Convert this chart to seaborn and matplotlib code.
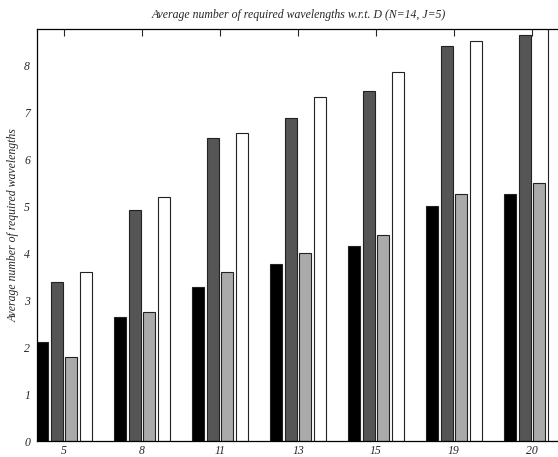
import pandas as pd
import matplotlib.pyplot as plt
import seaborn as sns

# values (y axis: average number of wavelengths)
D_values = ["5", "8", "11", "13", "15", "19", "20"]
series_a = [2.10, 2.63, 3.27, 3.76, 4.15, 5.00, 5.25]
series_b = [3.39, 4.91, 6.44, 6.88, 7.45, 8.40, 8.64]
series_c = [1.79, 2.75, 3.59, 3.99, 4.38, 5.25, 5.50]
series_d = [3.59, 5.19, 6.56, 7.32, 7.85, 8.52, 9.00]
series_names = ["a", "b", "c", "d"]
bar_colors = ["#000000", "#555555", "#aaaaaa", "#ffffff"]

rows = []
for name, vals in zip(series_names, [series_a, series_b, series_c, series_d]):
    for d, v in zip(D_values, vals):
        rows.append({"D": d, "value": v, "series": name})
df = pd.DataFrame(rows)

sns.set_style("white")
plt.rcParams["font.family"] = ["Liberation Serif", "DejaVu Serif"]
plt.rcParams["font.style"] = "italic"

fig = plt.figure(figsize=(5.58, 4.57), dpi=100)
ax = fig.add_axes([37 / 558, 16 / 457, 523 / 558, 412 / 457])

sns.barplot(data=df, x="D", y="value", hue="series", order=D_values,
            hue_order=series_names, palette=bar_colors, saturation=1,
            width=0.744, gap=0.17, edgecolor="#222222", linewidth=0.8,
            legend=False, ax=ax)

ax.set_xlim(-0.346, 6.36)
ax.set_ylim(0, 8.766)
ax.set_yticks(range(0, 9))
ax.set_xlabel("")
ax.set_ylabel("Average number of required wavelengths", fontsize=8.5)
ax.yaxis.set_label_coords(-0.034, 0.524)
ax.set_title("Average number of required wavelengths w.r.t. D (N=14, J=5)",
             fontsize=8.5, pad=8)

for s in ax.spines.values():
    s.set_color("black")
    s.set_linewidth(0.9)
ax.tick_params(axis="x", direction="in", top=True, length=5, width=0.8,
               labelsize=8.5, pad=3)
ax.tick_params(axis="y", direction="in", length=5, width=0.8, labelsize=8.5, pad=5)

fig.savefig("out.png", dpi=100)
